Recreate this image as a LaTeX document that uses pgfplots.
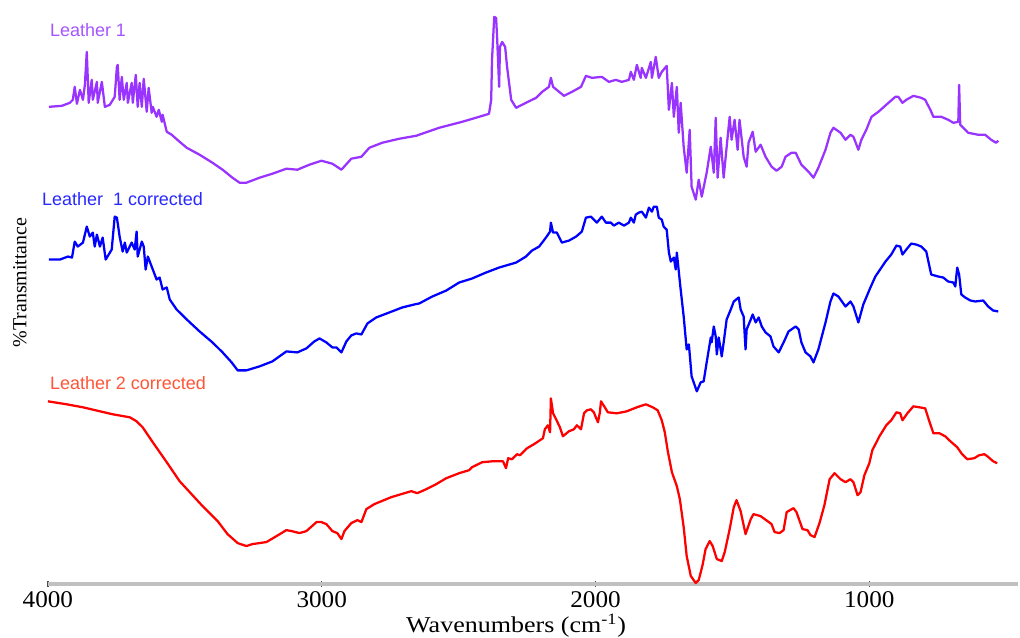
\documentclass[border=0pt]{standalone}
\usepackage{pgfplots}
\pgfplotsset{compat=1.18}
\usepackage{fontspec}
\setmainfont{Liberation Serif}
\newfontfamily\lsans{Liberation Sans}
\definecolor{pline}{RGB}{153,51,255}
\definecolor{plab}{RGB}{165,85,255}
\definecolor{bline}{RGB}{0,0,255}
\definecolor{blab}{RGB}{40,40,255}
\definecolor{rline}{RGB}{255,0,0}
\definecolor{rlab}{RGB}{255,85,55}
\definecolor{axgray}{RGB}{192,192,192}
\begin{document}
\begin{tikzpicture}
\begin{axis}[
  scale only axis, width=729pt, height=438.75pt,
  x dir=reverse, xmin=456, xmax=4000, ymin=0, ymax=585,
  axis x line*=bottom, axis y line=none,
  axis line style={axgray, line width=2.6pt},
  xtick={1000,2000,3000,4000},
  minor xtick={600,800,1200,1400,1600,1800,2200,2400,2600,2800,3200,3400,3600,3800},
  tick align=center, major tick length=4pt, minor tick length=3pt,
  every tick/.style={black!70, line width=1pt},
  /pgf/number format/1000 sep={},
  /pgf/number format/assume math mode=true,
  xticklabel style={font=\fontsize{18}{21}\selectfont, yshift=-0.5pt, xscale=1.05},
  clip=false,
  every axis plot/.append style={line width=1.7pt, line join=round},
]
\path (axis cs:4175,-51) rectangle (axis cs:456,585);
% Leather 1
\addplot[pline] coordinates {
(3996,478)(3949,479)(3920,482)(3909,485)(3902,498)(3894,481)(3883,495)(3872,485)(3865,500)(3858,533)(3851,482)(3840,505)(3836,485)(3821,503)(3818,482)(3803,503)(3792,478)(3774,480)(3756,488)(3748,518)(3745,520)(3738,485)(3730,508)(3723,485)(3712,502)(3708,482)(3694,502)(3690,482)(3679,510)(3672,478)(3665,502)(3657,478)(3650,506)(3639,473)(3632,497)(3621,472)(3617,478)(3603,468)(3595,475)(3584,463)(3581,470)(3566,453)(3548,450)(3519,443)(3493,437)(3446,430)(3399,422)(3362,415)(3326,407)(3300,402)(3275,402)(3227,407)(3180,411)(3129,416)(3089,415)(3045,420)(3001,424)(2961,421)(2928,415)(2892,426)(2855,428)(2826,437)(2779,442)(2717,446)(2655,449)(2571,457)(2487,463)(2425,468)(2389,471)(2381,485)(2378,525)(2370,568)(2363,567)(2359,545)(2352,498)(2349,538)(2341,543)(2330,538)(2323,518)(2308,485)(2290,477)(2254,482)(2217,487)(2195,493)(2170,498)(2163,507)(2155,498)(2133,493)(2115,489)(2086,493)(2053,498)(2035,509)(2013,507)(1977,508)(1951,503)(1926,505)(1904,503)(1878,505)(1871,513)(1860,505)(1849,520)(1835,507)(1831,517)(1816,507)(1798,523)(1794,507)(1780,528)(1769,507)(1758,513)(1740,519)(1732,475)(1721,502)(1714,468)(1703,498)(1696,452)(1689,482)(1678,438)(1667,412)(1656,455)(1649,398)(1634,385)(1623,405)(1612,388)(1594,412)(1579,438)(1568,412)(1561,467)(1554,407)(1543,447)(1532,407)(1521,438)(1510,468)(1503,445)(1492,465)(1481,435)(1474,465)(1459,428)(1448,418)(1441,442)(1426,453)(1415,433)(1397,440)(1379,428)(1357,418)(1339,414)(1320,418)(1306,428)(1284,432)(1269,432)(1248,420)(1222,413)(1204,407)(1186,417)(1160,435)(1142,452)(1131,457)(1105,452)(1087,445)(1069,450)(1058,448)(1040,435)(1029,445)(1011,455)(992,468)(967,473)(930,482)(905,488)(894,488)(879,482)(865,485)(839,489)(810,487)(796,485)(777,475)(766,468)(737,468)(712,465)(693,462)(675,463)(672,500)(668,460)(639,452)(602,450)(577,450)(555,445)(537,442)(529,444)
};
% Leather 1 corrected
\addplot[bline] coordinates {
(3996,325)(3956,325)(3927,328)(3912,327)(3902,343)(3891,338)(3872,342)(3858,358)(3847,348)(3836,352)(3829,338)(3821,350)(3810,338)(3800,347)(3789,325)(3767,335)(3756,368)(3748,367)(3738,348)(3727,333)(3719,342)(3712,332)(3694,342)(3683,335)(3676,353)(3672,328)(3657,343)(3650,338)(3643,315)(3635,328)(3621,318)(3603,305)(3592,307)(3581,295)(3566,297)(3555,285)(3530,275)(3493,265)(3446,253)(3399,242)(3362,232)(3329,222)(3307,214)(3275,214)(3227,218)(3180,223)(3129,233)(3089,232)(3056,236)(3027,243)(3008,246)(2983,242)(2961,237)(2946,237)(2928,232)(2910,243)(2892,249)(2874,251)(2855,250)(2833,261)(2801,267)(2753,272)(2706,277)(2662,280)(2644,281)(2596,288)(2545,294)(2498,302)(2451,306)(2400,312)(2352,317)(2290,322)(2254,328)(2232,334)(2206,338)(2181,347)(2166,353)(2163,362)(2155,352)(2141,352)(2123,342)(2097,344)(2071,348)(2050,353)(2035,367)(2017,368)(1995,362)(1977,368)(1962,362)(1944,362)(1933,359)(1915,362)(1896,359)(1878,362)(1871,367)(1860,362)(1853,370)(1842,372)(1831,373)(1816,367)(1805,377)(1794,373)(1787,378)(1776,378)(1769,367)(1758,365)(1751,358)(1740,355)(1732,332)(1725,323)(1714,327)(1707,315)(1703,332)(1689,295)(1678,268)(1667,235)(1659,240)(1649,208)(1630,193)(1616,202)(1605,203)(1594,222)(1579,247)(1576,242)(1568,258)(1561,248)(1557,230)(1550,247)(1539,228)(1532,242)(1521,265)(1506,275)(1495,283)(1477,287)(1470,275)(1459,268)(1452,235)(1448,255)(1433,265)(1426,270)(1415,262)(1404,267)(1393,258)(1379,252)(1361,248)(1350,238)(1331,232)(1313,242)(1295,253)(1269,258)(1258,255)(1248,242)(1233,232)(1215,228)(1204,222)(1186,235)(1160,262)(1142,283)(1131,291)(1113,288)(1087,278)(1069,283)(1058,278)(1040,262)(1022,280)(996,297)(978,308)(941,323)(920,330)(901,339)(887,338)(879,330)(865,335)(847,341)(828,340)(810,338)(792,333)(774,310)(748,308)(730,307)(712,303)(693,302)(686,298)(679,317)(672,310)(664,290)(650,287)(631,284)(613,283)(584,284)(566,278)(548,274)(529,273)
};
% Leather 2 corrected
\addplot[rline] coordinates {
(4000,183)(3931,180)(3872,177)(3810,173)(3763,170)(3701,167)(3676,163)(3654,157)(3617,142)(3566,122)(3519,103)(3482,92)(3435,78)(3380,63)(3344,50)(3307,41)(3275,38)(3253,40)(3202,42)(3165,48)(3129,54)(3110,53)(3081,51)(3056,53)(3019,62)(3001,62)(2983,60)(2961,53)(2943,51)(2928,45)(2917,53)(2892,61)(2870,64)(2855,62)(2837,75)(2808,80)(2746,87)(2673,93)(2651,91)(2618,95)(2582,100)(2545,106)(2498,111)(2462,114)(2451,117)(2414,122)(2374,123)(2338,123)(2327,116)(2319,126)(2305,125)(2287,130)(2276,129)(2250,136)(2225,140)(2192,146)(2185,155)(2174,159)(2166,152)(2163,186)(2155,171)(2144,165)(2130,157)(2119,148)(2097,153)(2079,155)(2068,159)(2053,155)(2042,171)(2031,174)(2017,175)(2006,172)(1999,167)(1991,162)(1984,172)(1980,183)(1966,177)(1955,172)(1922,171)(1886,173)(1849,177)(1816,180)(1791,177)(1773,174)(1758,164)(1747,152)(1736,133)(1721,112)(1703,98)(1692,85)(1678,57)(1667,28)(1652,8)(1634,1)(1623,4)(1609,19)(1598,35)(1583,43)(1572,38)(1557,25)(1539,23)(1528,32)(1510,55)(1495,77)(1485,84)(1470,73)(1452,50)(1433,65)(1423,70)(1397,68)(1372,63)(1357,60)(1346,52)(1328,51)(1313,54)(1302,72)(1277,76)(1266,72)(1244,55)(1226,54)(1215,49)(1200,47)(1182,61)(1164,79)(1145,105)(1127,111)(1105,105)(1087,102)(1069,105)(1058,102)(1043,89)(1032,92)(1018,109)(1000,121)(989,134)(963,148)(938,159)(920,164)(901,172)(887,171)(879,164)(861,171)(839,178)(817,177)(796,176)(782,164)(766,151)(744,151)(723,148)(704,143)(679,137)(661,130)(642,125)(617,126)(599,129)(580,130)(569,128)(548,123)(533,121)
};
\node[anchor=west, text=plab, font=\lsans\fontsize{13.5}{15}\selectfont, inner sep=0pt] at (axis cs:3993,555) {Leather 1};
\node[anchor=west, text=blab, font=\lsans\fontsize{13.5}{15}\selectfont, inner sep=0pt] at (axis cs:4022,386) {Leather\ \ 1 corrected};
\node[anchor=west, text=rlab, font=\lsans\fontsize{13.5}{15}\selectfont, inner sep=0pt] at (axis cs:3993,201) {Leather 2 corrected};
\node[rotate=90, font=\fontsize{15}{18}\selectfont, inner sep=0pt] at (axis cs:4102,302) {\%Transmittance};
\node[font=\fontsize{17}{20}\selectfont, inner sep=0pt, xscale=1.15] at (axis cs:2290,-41.5) {Wavenumbers (cm\textsuperscript{-1})};
\end{axis}
\end{tikzpicture}
\end{document}
